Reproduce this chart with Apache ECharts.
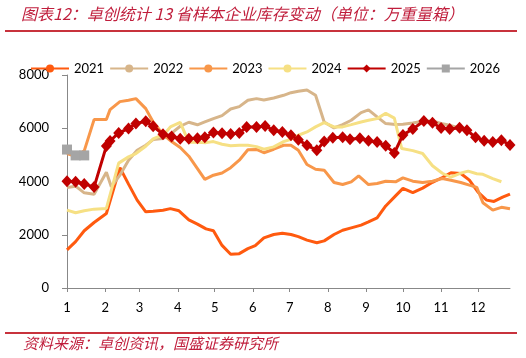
<!DOCTYPE html>
<html>
<head>
<meta charset="utf-8">
<script src="https://cdn.jsdelivr.net/npm/echarts@6/dist/echarts.min.js"></script>
<style>
html,body{margin:0;padding:0;background:#fff;}
#chart{width:526px;height:358px;}
</style>
</head>
<body>
<div id="chart"></div>
<script>
// Month start days (x axis ticks) and their labels
var monthStarts = [0,31,59,90,120,151,181,212,243,273,304,334];
var monthLabels = ['1','2','3','4','5','6','7','8','9','10','11','12'];
var yTicks = [0,2000,4000,6000,8000];

var seriesNames = ['2021','2022','2023','2024','2025','2026'];

var days2021 = [0,7,14,22,32,43,50,57,64,70,78,84,91,99,106,113,119,126,133,140,147,153,160,168,175,182,188,195,203,209,217,224,231,239,245,252,259,267,273,281,289,297,305,312,320,327,334,341,347,354,360];
var vals2021 = [1430,1740,2150,2460,2800,4520,3900,3300,2860,2880,2920,2980,2900,2560,2400,2220,2150,1600,1270,1290,1480,1590,1880,2010,2060,2010,1930,1800,1700,1770,2010,2170,2260,2360,2480,2630,3080,3460,3740,3580,3750,3970,4150,4330,4300,4050,3600,3300,3250,3410,3530];

var days2022 = [0,7,14,22,32,36,43,50,57,64,70,78,84,92,99,106,112,119,126,133,140,147,154,160,168,176,182,188,195,202,209,217,224,231,239,245,252,259,267,273,281,289,297,304,312,320,327];
var vals2022 = [3775,3825,3575,3525,4350,3800,4237,4800,5175,5362,5575,5612,5780,6075,6225,6130,6237,6362,6475,6725,6812,7050,7112,7060,7137,7237,7337,7387,7437,7237,6237,6012,6137,6300,6587,6687,6425,6175,6137,6150,6200,6260,6270,6180,6100,6000,5920];

var days2023 = [0,7,14,22,32,35,43,50,56,64,70,78,85,92,99,106,112,119,126,133,140,147,154,160,168,176,182,188,195,202,209,217,224,231,237,245,252,259,267,273,281,289,297,305,312,320,327,333,338,346,353,360];
var vals2023 = [5050,4950,5150,6325,6325,6700,7000,7050,7112,6737,6237,5775,5500,5275,4950,4487,4080,4237,4320,4520,4800,5190,5205,5080,5212,5362,5362,5175,4637,4462,4425,3962,3887,3987,4212,3887,3925,4012,3987,4137,4012,3962,4012,4112,4050,3962,3862,3780,3200,2925,3030,2975];

var days2024 = [0,7,14,22,32,42,50,56,64,70,79,84,92,99,106,113,119,126,133,140,147,154,160,168,176,182,188,195,202,209,217,224,231,239,245,252,259,266,272,281,289,297,305,312,319,326,333,338,346,353];
var vals2024 = [2925,2825,2900,2962,2990,4690,4925,5050,5325,5600,5775,6050,6220,5470,5470,5460,5500,5400,5340,5362,5362,5310,5210,5300,5500,5587,5737,5862,6050,6212,6050,6050,6137,6237,6300,6362,6560,6380,5237,5160,5050,4590,4310,4160,4300,4390,4290,4270,4110,3990];

var days2025 = [0,7,14,22,32,35,42,50,56,64,70,78,85,92,99,106,112,119,126,133,140,146,154,161,168,175,182,188,195,203,209,216,224,230,238,245,252,259,266,273,281,290,297,304,311,319,325,332,339,346,353,360];
var vals2025 = [4010,3990,3910,3790,5330,5520,5825,5990,6175,6262,6075,5775,5690,5610,5610,5620,5660,5840,5810,5780,5820,6050,6050,6080,5925,5860,5737,5570,5360,5175,5500,5645,5660,5590,5625,5535,5480,5345,5070,5750,5975,6270,6205,6010,5975,6015,5925,5660,5535,5487,5550,5375];

var days2026 = [0,7,14];
var vals2026 = [5200,4980,4980];

var colors = ['#FF5A0F','#D7B58A','#F8974A','#F6E084','#C00000','#A5A5A5'];

function pairs(d, v){ return d.map(function(x,i){ return [x, v[i]]; }); }

var daysAll = [days2021,days2022,days2023,days2024,days2025,days2026];
var valsAll = [vals2021,vals2022,vals2023,vals2024,vals2025,vals2026];

var series = seriesNames.map(function(name, i){
  var s = {
    name: name,
    type: 'line',
    data: pairs(daysAll[i], valsAll[i]),
    symbol: 'none',
    lineStyle: {width: 3, color: colors[i]},
    itemStyle: {color: colors[i]},
    emphasis: {disabled: true},
    z: 2 + i
  };
  if (name === '2025') { s.symbol = 'diamond'; s.symbolSize = [11, 12]; s.showSymbol = true; }
  if (name === '2026') { s.symbol = 'rect'; s.symbolSize = 10; s.showSymbol = true; s.lineStyle.width = 4; }
  return s;
});

var chart = echarts.init(document.getElementById('chart'), null, {renderer: 'canvas'});
chart.setOption({
  animation: false,
  backgroundColor: '#fff',
  textStyle: {fontFamily: 'Lato, "Noto Sans CJK SC", sans-serif'},
  title: [{
    text: '图表12：卓创统计 13 省样本企业库存变动（单位：万重量箱）',
    left: 16, top: 1,
    textStyle: {fontSize: 16, fontStyle: 'italic', fontWeight: 'normal', color: '#C01E3C', fontFamily: '"Noto Sans CJK SC", sans-serif'}
  },{
    text: '资料来源：卓创资讯，国盛证券研究所',
    left: 18, top: 331,
    textStyle: {fontSize: 15, fontStyle: 'italic', fontWeight: 'normal', color: '#C01E3C', fontFamily: '"Noto Sans CJK SC", sans-serif'}
  }],
  graphic: [
    {type: 'rect', shape: {x: 5, y: 30, width: 512, height: 2}, style: {fill: '#C8323C'}, silent: true},
    {type: 'rect', shape: {x: 5, y: 332, width: 512, height: 2}, style: {fill: '#C8323C'}, silent: true}
  ],
  legend: {
    data: seriesNames,
    left: 25, top: 57, width: 510,
    itemWidth: 38, itemHeight: 10, itemGap: 5,
    textStyle: {fontSize: 13, color: '#000', fontFamily: 'Lato'}
  },
  grid: {left: 67, right: 16, top: 75, bottom: 70, containLabel: false},
  xAxis: {
    type: 'value', min: 0, max: 360,
    axisLine: {show: true, lineStyle: {color: '#888', width: 1}},
    axisTick: {show: true, length: 4, customValues: monthStarts, lineStyle: {color: '#888'}},
    axisLabel: {
      customValues: monthStarts, margin: 13, fontSize: 13, color: '#000', fontFamily: 'Lato',
      formatter: function(v){ var k = monthStarts.indexOf(v); return k >= 0 ? monthLabels[k] : ''; }
    },
    splitLine: {show: false}
  },
  yAxis: {
    type: 'value', min: 0, max: 8000, interval: 2000,
    axisLine: {show: true, lineStyle: {color: '#888', width: 1}},
    axisTick: {show: true, length: 5, lineStyle: {color: '#888'}},
    axisLabel: {margin: 18, fontSize: 13, color: '#000', fontFamily: 'Lato',
      formatter: function(v){ return String(v); }},
    splitLine: {show: false}
  },
  series: series
});
</script>
</body>
</html>
